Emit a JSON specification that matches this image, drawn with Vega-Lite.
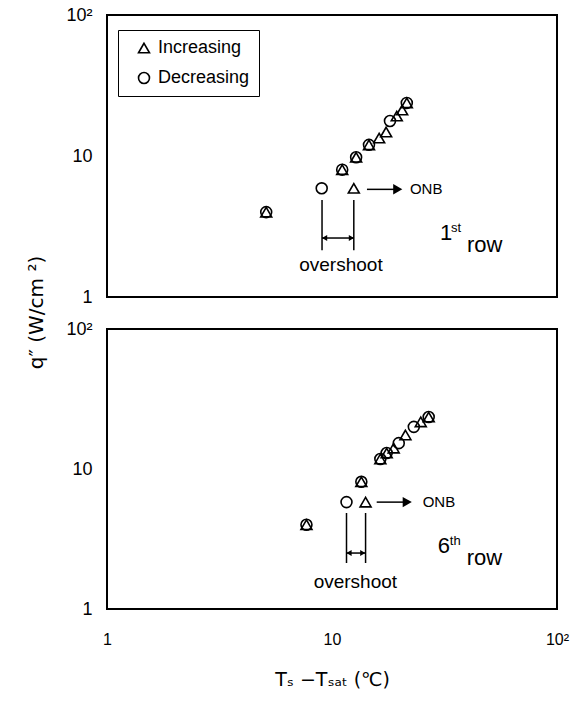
{
  "$schema": "https://vega.github.io/schema/vega-lite/v6.json",
  "background": "white",
  "padding": {"left": 25, "top": 5, "right": 5, "bottom": 5},
  "bounds": "flush",
  "spacing": 32,
  "datasets": {
    "ticks": [
      {"v": 2}, {"v": 3}, {"v": 4}, {"v": 5}, {"v": 6}, {"v": 7}, {"v": 8}, {"v": 9}, {"v": 10},
      {"v": 20}, {"v": 30}, {"v": 40}, {"v": 50}, {"v": 60}, {"v": 70}, {"v": 80}, {"v": 90}
    ],
    "pts1": [
      {"x": 5.1, "y": 4.0, "series": "Increasing"},
      {"x": 12.5, "y": 5.9, "series": "Increasing"},
      {"x": 11.1, "y": 8.0, "series": "Increasing"},
      {"x": 12.8, "y": 9.8, "series": "Increasing"},
      {"x": 14.6, "y": 12.0, "series": "Increasing"},
      {"x": 16.2, "y": 13.4, "series": "Increasing"},
      {"x": 17.4, "y": 14.8, "series": "Increasing"},
      {"x": 19.4, "y": 19.2, "series": "Increasing"},
      {"x": 20.5, "y": 21.2, "series": "Increasing"},
      {"x": 21.5, "y": 23.8, "series": "Increasing"},
      {"x": 5.1, "y": 4.0, "series": "Decreasing"},
      {"x": 9.0, "y": 5.9, "series": "Decreasing"},
      {"x": 11.1, "y": 8.0, "series": "Decreasing"},
      {"x": 12.8, "y": 9.8, "series": "Decreasing"},
      {"x": 14.6, "y": 12.0, "series": "Decreasing"},
      {"x": 18.1, "y": 17.7, "series": "Decreasing"},
      {"x": 21.5, "y": 23.8, "series": "Decreasing"}
    ],
    "pts2": [
      {"x": 7.7, "y": 4.0, "series": "Increasing"},
      {"x": 14.1, "y": 5.8, "series": "Increasing"},
      {"x": 13.5, "y": 8.1, "series": "Increasing"},
      {"x": 16.4, "y": 11.8, "series": "Increasing"},
      {"x": 17.5, "y": 13.0, "series": "Increasing"},
      {"x": 18.8, "y": 14.1, "series": "Increasing"},
      {"x": 21.2, "y": 17.5, "series": "Increasing"},
      {"x": 24.8, "y": 21.7, "series": "Increasing"},
      {"x": 26.9, "y": 23.5, "series": "Increasing"},
      {"x": 7.7, "y": 4.0, "series": "Decreasing"},
      {"x": 11.6, "y": 5.8, "series": "Decreasing"},
      {"x": 13.5, "y": 8.1, "series": "Decreasing"},
      {"x": 16.4, "y": 11.8, "series": "Decreasing"},
      {"x": 17.5, "y": 13.0, "series": "Decreasing"},
      {"x": 19.8, "y": 15.3, "series": "Decreasing"},
      {"x": 23.1, "y": 20.0, "series": "Decreasing"},
      {"x": 26.9, "y": 23.5, "series": "Decreasing"}
    ],
    "ann1": [
      {"kind": "shaft", "x": 14.3, "x2": 19.6, "y": 5.8},
      {"kind": "onbHead", "x": 19.6, "y": 5.8},
      {"kind": "onb", "x": 22.2, "y": 5.8, "label": "ONB"},
      {"kind": "vline", "x": 9.03, "y": 4.88, "y2": 2.15},
      {"kind": "vline", "x": 12.5, "y": 4.88, "y2": 2.15},
      {"kind": "shaft", "x": 9.03, "x2": 12.5, "y": 2.62},
      {"kind": "osHeadL", "x": 9.27, "y": 2.62},
      {"kind": "osHeadR", "x": 12.2, "y": 2.62},
      {"kind": "overshoot", "x": 10.96, "y": 1.69, "label": "overshoot"},
      {"kind": "big", "x": 30.2, "y": 2.54, "label": "1"},
      {"kind": "sup", "x": 33.8, "y": 2.89, "label": "st"},
      {"kind": "big", "x": 39.8, "y": 2.08, "label": "row"}
    ],
    "ann2": [
      {"kind": "shaft", "x": 15.8, "x2": 21.6, "y": 5.8},
      {"kind": "onbHead", "x": 21.6, "y": 5.8},
      {"kind": "onb", "x": 25.3, "y": 5.8, "label": "ONB"},
      {"kind": "vline", "x": 11.6, "y": 4.85, "y2": 2.13},
      {"kind": "vline", "x": 14.1, "y": 4.85, "y2": 2.13},
      {"kind": "shaft", "x": 11.6, "x2": 14.1, "y": 2.51},
      {"kind": "osHeadL", "x": 11.9, "y": 2.51},
      {"kind": "osHeadR", "x": 13.7, "y": 2.51},
      {"kind": "overshoot", "x": 12.7, "y": 1.56, "label": "overshoot"},
      {"kind": "big", "x": 29.5, "y": 2.51, "label": "6"},
      {"kind": "sup", "x": 33.4, "y": 2.87, "label": "th"},
      {"kind": "big", "x": 39.7, "y": 2.06, "label": "row"}
    ]
  },
  "vconcat": [
    {
      "width": 450,
      "height": 282,
      "encoding": {
        "x": {"field": "x", "type": "quantitative", "scale": {"type": "log", "domain": [1, 100]},
              "axis": {"labels": false, "title": null, "values": [1, 10, 100]}},
        "y": {"field": "y", "type": "quantitative", "scale": {"type": "log", "domain": [1, 100]},
              "axis": {"title": "q″  (W/cm ²)", "titleY": 297, "titlePadding": 19, "titleFontSize": 20, "titleFont": "DejaVu Sans",
                       "values": [1, 10, 100],
                       "labelExpr": "datum.value == 100 ? '10²' : datum.value == 10 ? '10' : '1'"}}
      },
      "layer": [
        {"data": {"name": "ticks"}, "mark": {"type": "rule", "color": "black", "strokeWidth": 1.2},
         "encoding": {"x": {"field": "v", "type": "quantitative"}, "y": {"datum": 1}, "y2": {"datum": 1.1}}},
        {"data": {"name": "ticks"}, "mark": {"type": "rule", "color": "black", "strokeWidth": 1.2},
         "encoding": {"y": {"field": "v", "type": "quantitative"}, "x": {"datum": 1}, "x2": {"datum": 1.06}}},
        {
          "data": {"name": "pts1"},
          "mark": {"type": "point", "filled": false, "color": "black", "size": 120, "strokeWidth": 1.6, "opacity": 1},
          "encoding": {
            "shape": {"field": "series", "type": "nominal",
                      "scale": {"domain": ["Increasing", "Decreasing"], "range": ["triangle-up", "circle"]},
                      "legend": {"title": null, "orient": "none", "legendX": 11, "legendY": 15,
                                 "strokeColor": "black", "padding": 9, "symbolOffset": 8,
                                 "labelFontSize": 18, "labelOffset": 5, "rowPadding": 12, "symbolSize": 120,
                                 "symbolStrokeWidth": 1.6, "symbolStrokeColor": "black", "labelColor": "black", "fillColor": "white"}}
          }
        },
        {"data": {"name": "ann1"}, "transform": [{"filter": "datum.kind == 'shaft'"}],
         "mark": {"type": "rule", "color": "black", "strokeWidth": 1.5}, "encoding": {"x2": {"field": "x2"}}},
        {"data": {"name": "ann1"}, "transform": [{"filter": "datum.kind == 'vline'"}],
         "mark": {"type": "rule", "color": "black", "strokeWidth": 1.5}, "encoding": {"y2": {"field": "y2"}}},
        {"data": {"name": "ann1"}, "transform": [{"filter": "datum.kind == 'onbHead'"}],
         "mark": {"type": "point", "shape": "triangle-right", "filled": true, "color": "black", "size": 110, "opacity": 1}},
        {"data": {"name": "ann1"}, "transform": [{"filter": "datum.kind == 'osHeadR'"}],
         "mark": {"type": "point", "shape": "triangle-right", "filled": true, "color": "black", "size": 36, "opacity": 1}},
        {"data": {"name": "ann1"}, "transform": [{"filter": "datum.kind == 'osHeadL'"}],
         "mark": {"type": "point", "shape": "triangle-left", "filled": true, "color": "black", "size": 36, "opacity": 1}},
        {"data": {"name": "ann1"}, "transform": [{"filter": "datum.kind == 'onb'"}],
         "mark": {"type": "text", "align": "left", "baseline": "middle", "fontSize": 15, "color": "black"},
         "encoding": {"text": {"field": "label"}}},
        {"data": {"name": "ann1"}, "transform": [{"filter": "datum.kind == 'overshoot'"}],
         "mark": {"type": "text", "align": "center", "baseline": "middle", "fontSize": 19, "color": "black"},
         "encoding": {"text": {"field": "label"}}},
        {"data": {"name": "ann1"}, "transform": [{"filter": "datum.kind == 'big'"}],
         "mark": {"type": "text", "align": "left", "baseline": "alphabetic", "fontSize": 22, "color": "black"},
         "encoding": {"text": {"field": "label"}}},
        {"data": {"name": "ann1"}, "transform": [{"filter": "datum.kind == 'sup'"}],
         "mark": {"type": "text", "align": "left", "baseline": "alphabetic", "fontSize": 13, "color": "black"},
         "encoding": {"text": {"field": "label"}}}
      ]
    },
    {
      "width": 450,
      "height": 280,
      "encoding": {
        "x": {"field": "x", "type": "quantitative", "scale": {"type": "log", "domain": [1, 100]},
              "axis": {"title": "Tₛ −Tₛₐₜ (℃)", "titleFont": "DejaVu Sans", "titleFontSize": 19, "labelFontSize": 16, "labelPadding": 22, "titlePadding": 23,
                       "values": [1, 10, 100],
                       "labelExpr": "datum.value == 100 ? '10²' : datum.value == 10 ? '10' : '1'"}},
        "y": {"field": "y", "type": "quantitative", "scale": {"type": "log", "domain": [1, 100]},
              "axis": {"title": null,
                       "values": [1, 10, 100],
                       "labelExpr": "datum.value == 100 ? '10²' : datum.value == 10 ? '10' : '1'"}}
      },
      "layer": [
        {"data": {"name": "ticks"}, "mark": {"type": "rule", "color": "black", "strokeWidth": 1.2},
         "encoding": {"x": {"field": "v", "type": "quantitative"}, "y": {"datum": 1}, "y2": {"datum": 1.1}}},
        {"data": {"name": "ticks"}, "mark": {"type": "rule", "color": "black", "strokeWidth": 1.2},
         "encoding": {"y": {"field": "v", "type": "quantitative"}, "x": {"datum": 1}, "x2": {"datum": 1.06}}},
        {
          "data": {"name": "pts2"},
          "mark": {"type": "point", "filled": false, "color": "black", "size": 120, "strokeWidth": 1.6, "opacity": 1},
          "encoding": {
            "shape": {"field": "series", "type": "nominal",
                      "scale": {"domain": ["Increasing", "Decreasing"], "range": ["triangle-up", "circle"]},
                      "legend": null}
          }
        },
        {"data": {"name": "ann2"}, "transform": [{"filter": "datum.kind == 'shaft'"}],
         "mark": {"type": "rule", "color": "black", "strokeWidth": 1.5}, "encoding": {"x2": {"field": "x2"}}},
        {"data": {"name": "ann2"}, "transform": [{"filter": "datum.kind == 'vline'"}],
         "mark": {"type": "rule", "color": "black", "strokeWidth": 1.5}, "encoding": {"y2": {"field": "y2"}}},
        {"data": {"name": "ann2"}, "transform": [{"filter": "datum.kind == 'onbHead'"}],
         "mark": {"type": "point", "shape": "triangle-right", "filled": true, "color": "black", "size": 110, "opacity": 1}},
        {"data": {"name": "ann2"}, "transform": [{"filter": "datum.kind == 'osHeadR'"}],
         "mark": {"type": "point", "shape": "triangle-right", "filled": true, "color": "black", "size": 36, "opacity": 1}},
        {"data": {"name": "ann2"}, "transform": [{"filter": "datum.kind == 'osHeadL'"}],
         "mark": {"type": "point", "shape": "triangle-left", "filled": true, "color": "black", "size": 36, "opacity": 1}},
        {"data": {"name": "ann2"}, "transform": [{"filter": "datum.kind == 'onb'"}],
         "mark": {"type": "text", "align": "left", "baseline": "middle", "fontSize": 15, "color": "black"},
         "encoding": {"text": {"field": "label"}}},
        {"data": {"name": "ann2"}, "transform": [{"filter": "datum.kind == 'overshoot'"}],
         "mark": {"type": "text", "align": "center", "baseline": "middle", "fontSize": 19, "color": "black"},
         "encoding": {"text": {"field": "label"}}},
        {"data": {"name": "ann2"}, "transform": [{"filter": "datum.kind == 'big'"}],
         "mark": {"type": "text", "align": "left", "baseline": "alphabetic", "fontSize": 22, "color": "black"},
         "encoding": {"text": {"field": "label"}}},
        {"data": {"name": "ann2"}, "transform": [{"filter": "datum.kind == 'sup'"}],
         "mark": {"type": "text", "align": "left", "baseline": "alphabetic", "fontSize": 13, "color": "black"},
         "encoding": {"text": {"field": "label"}}}
      ]
    }
  ],
  "resolve": {"scale": {"shape": "independent"}, "legend": {"shape": "independent"}},
  "config": {
    "font": "Liberation Sans",
    "view": {"stroke": "black", "strokeWidth": 2},
    "axis": {
      "domain": false, "grid": false, "ticks": false,
      "labelFontSize": 18, "labelColor": "black", "labelFlush": false, "labelOverlap": false,
      "labelPadding": 15, "titleFontSize": 19, "titleFontWeight": "normal", "titleColor": "black"
    }
  }
}
